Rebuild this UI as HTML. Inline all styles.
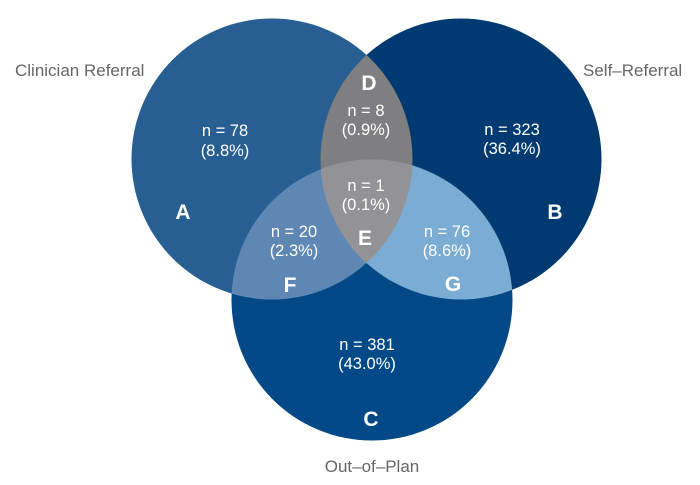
<!DOCTYPE html>
<html><head><meta charset="utf-8"><style>
html,body{margin:0;padding:0;background:#fff;}
svg{display:block;font-family:"Liberation Sans",Arial,sans-serif;}
.n{fill:#fff;font-size:16.5px;text-anchor:middle;}
.l{fill:#fff;font-size:21px;font-weight:bold;text-anchor:middle;}
.o{fill:#666;font-size:17px;}
</style></head><body>
<svg width="700" height="485" viewBox="0 0 700 485">
<defs>
<clipPath id="ca"><circle cx="272" cy="159" r="140.5"/></clipPath>
<clipPath id="cb"><circle cx="461" cy="159" r="140.5"/></clipPath>
<clipPath id="cc"><circle cx="372" cy="300" r="140.5"/></clipPath>
</defs>
<circle cx="372" cy="300" r="140.5" fill="#034987"/>
<circle cx="272" cy="159" r="140.5" fill="#285f92"/>
<circle cx="461" cy="159" r="140.5" fill="#003a70"/>
<g clip-path="url(#ca)"><circle cx="372" cy="300" r="140.5" fill="#5f87b3"/><circle cx="461" cy="159" r="140.5" fill="#7f7f82"/></g>
<g clip-path="url(#cb)"><circle cx="372" cy="300" r="140.5" fill="#7bacd3"/></g>
<g clip-path="url(#ca)"><g clip-path="url(#cb)"><circle cx="372" cy="300" r="140.5" fill="#939396"/></g></g>
<text class="o" x="15" y="76">Clinician Referral</text>
<text class="o" x="583" y="76">Self–Referral</text>
<text class="o" x="372" y="472" text-anchor="middle">Out–of–Plan</text>
<text class="n" x="225" y="136">n = 78</text><text class="n" x="225" y="156">(8.8%)</text>
<text class="n" x="366" y="116">n = 8</text><text class="n" x="366" y="135">(0.9%)</text>
<text class="n" x="512" y="135">n = 323</text><text class="n" x="512" y="154">(36.4%)</text>
<text class="n" x="366" y="191">n = 1</text><text class="n" x="366" y="210">(0.1%)</text>
<text class="n" x="294" y="237">n = 20</text><text class="n" x="294" y="256">(2.3%)</text>
<text class="n" x="447" y="237">n = 76</text><text class="n" x="447" y="256">(8.6%)</text>
<text class="n" x="367" y="350">n = 381</text><text class="n" x="367" y="369">(43.0%)</text>
<text class="l" x="183" y="219">A</text>
<text class="l" x="555" y="219">B</text>
<text class="l" x="371" y="426">C</text>
<text class="l" x="369" y="90">D</text>
<text class="l" x="365" y="245">E</text>
<text class="l" x="290" y="292">F</text>
<text class="l" x="453" y="291">G</text>
</svg>
</body></html>
